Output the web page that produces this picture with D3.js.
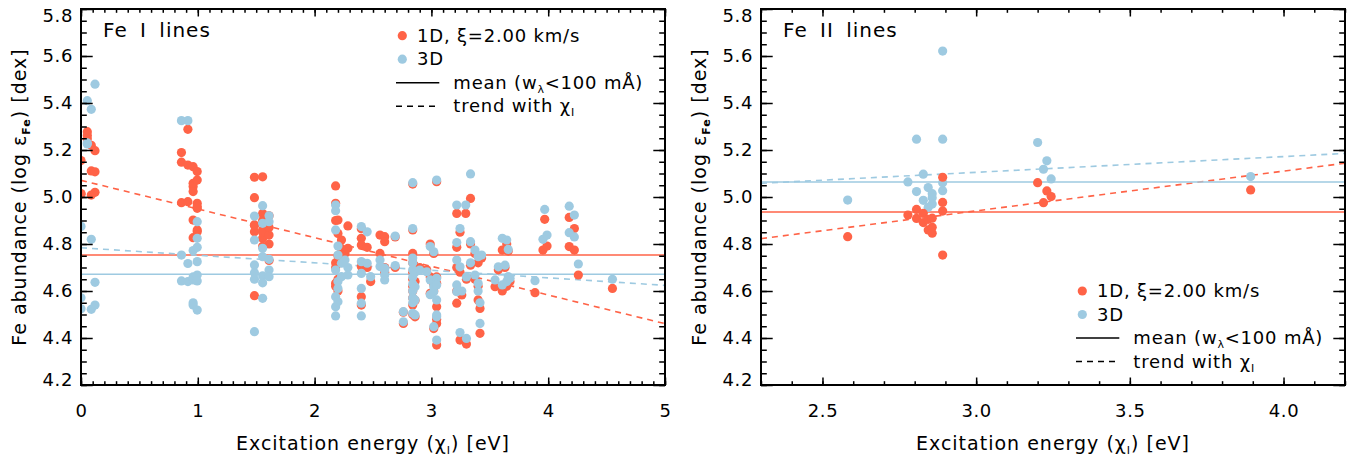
<!DOCTYPE html>
<html>
<head>
<meta charset="utf-8">
<script src="https://cdn.jsdelivr.net/npm/d3@7"></script>
<style>
body { margin: 0; background: #fff; }
svg text { font-family: 'DejaVu Sans', sans-serif; fill: #000; }
</style>
</head>
<body>
<svg id="chart" width="1358" height="460"></svg>
<script>
// Fe I lines: excitation energy [eV], 1D and 3D abundances
const fe1Chi = [
    0.0, 0.0, 0.0, 0.054, 0.054, 0.054, 0.088, 0.088, 0.088, 0.12, 0.12, 0.12,
    0.86, 0.86, 0.86, 0.915, 0.915, 0.915, 0.96, 0.96, 0.96, 0.96, 0.96, 0.96,
    0.995, 0.995, 0.995, 0.995, 0.995, 0.995, 0.995,
    1.485, 1.485, 1.485, 1.485, 1.485, 1.485, 1.555, 1.555, 1.555, 1.555, 1.555, 1.555, 1.555,
    1.61, 1.61, 1.61, 1.61, 1.61,
    2.18, 2.18, 2.18, 2.18, 2.18, 2.18, 2.18, 2.2, 2.2, 2.2, 2.2, 2.2, 2.23, 2.23, 2.26, 2.285, 2.285,
    2.40, 2.40, 2.40, 2.40, 2.40, 2.40, 2.45, 2.45, 2.48,
    2.56, 2.56, 2.60, 2.60, 2.60, 2.60,
    2.69, 2.69,
    2.76, 2.76, 2.84, 2.84, 2.84, 2.84, 2.84, 2.84, 2.84, 2.84, 2.84, 2.84, 2.84, 2.86, 2.86, 2.86, 2.86,
    2.90, 2.96, 2.99, 2.99, 2.99, 3.02, 3.02, 3.02, 3.02, 3.045, 3.045, 3.045, 3.045, 3.045, 3.045, 3.045,
    3.217, 3.217, 3.217, 3.217, 3.217, 3.245, 3.245, 3.245, 3.26, 3.294, 3.30, 3.30,
    3.335, 3.335, 3.335, 3.373, 3.373, 3.40, 3.40, 3.40, 3.416, 3.416, 3.43,
    3.545, 3.573, 3.607, 3.607, 3.63, 3.645, 3.645, 3.658, 3.658, 3.673,
    3.887, 3.955, 3.97, 3.99,
    4.18, 4.18, 4.224, 4.224, 4.258,
    4.55
];
const fe1Ab1D = [
    5.155, 5.015, 5.012, 5.278, 5.262, 5.248, 5.22, 5.111, 5.008, 5.197, 5.107, 5.02,
    5.189, 5.148, 4.976, 5.288, 5.136, 4.98, 5.129, 5.058, 5.045, 5.023, 4.902, 4.827,
    5.108, 5.072, 4.973, 4.952, 4.852, 4.96, 4.86,
    5.084, 4.997, 4.881, 4.852, 4.58, 4.88, 5.086, 4.93, 4.86, 4.824, 4.90, 4.85, 4.79,
    4.838, 4.73, 4.92, 4.87, 4.80,
    5.047, 4.973, 4.90, 4.633, 4.72, 4.70, 4.62, 4.902, 4.845, 4.75, 4.65, 4.60, 4.817, 4.78, 4.76, 4.877, 4.782,
    4.865, 4.824, 4.796, 4.704, 4.576, 4.54, 4.786, 4.70, 4.64,
    4.838, 4.76, 4.831, 4.81, 4.70, 4.68,
    4.83, 4.70,
    4.462, 4.51, 5.055, 4.86, 4.76, 4.72, 4.68, 4.65, 4.62, 4.60, 4.57, 4.54, 4.50, 4.70, 4.64, 4.56, 4.49,
    4.70, 4.69, 4.80, 4.66, 4.59, 4.76, 4.63, 4.60, 4.44, 5.065, 4.66, 4.633, 4.533, 4.462, 4.37, 4.48,
    4.93, 4.786, 4.70, 4.60, 4.548, 4.85, 4.68, 4.391, 4.583, 4.93, 4.65, 4.374,
    4.994, 4.80, 4.71, 4.76, 4.65, 4.62, 4.562, 4.72, 4.526, 4.42, 4.74,
    4.618, 4.69, 4.774, 4.60, 4.70, 4.80, 4.62, 4.77, 4.65, 4.64,
    4.593, 4.774, 4.905, 4.791,
    4.913, 4.789, 4.866, 4.774, 4.668,
    4.611
];
const fe1Ab3D = [
    4.875, 4.571, 4.524, 5.41, 5.226, 5.23, 5.373, 4.82, 4.522, 5.48, 4.637, 4.54,
    5.325, 4.753, 4.643, 5.325, 4.717, 4.64, 4.772, 4.651, 4.647, 4.54, 4.66, 4.55,
    4.895, 4.824, 4.786, 4.725, 4.668, 4.643, 4.519,
    4.919, 4.817, 4.711, 4.678, 4.427, 4.65, 4.963, 4.888, 4.782, 4.746, 4.665, 4.635, 4.569,
    4.92, 4.895, 4.735, 4.689, 4.661,
    4.966, 4.942, 4.86, 4.689, 4.576, 4.533, 4.494, 4.791, 4.753, 4.64, 4.611, 4.554, 4.661, 4.718, 4.732, 4.668, 4.70,
    4.874, 4.725, 4.675, 4.611, 4.548, 4.494, 4.852, 4.718, 4.661,
    4.732, 4.704, 4.697, 4.689, 4.668, 4.647,
    4.834, 4.708,
    4.469, 4.512, 5.061, 4.866, 4.74, 4.72, 4.69, 4.66, 4.63, 4.60, 4.57, 4.55, 4.505, 4.68, 4.618, 4.562, 4.498,
    4.689, 4.682, 4.789, 4.647, 4.584, 4.767, 4.618, 4.597, 4.448, 5.072, 4.654, 4.626, 4.562, 4.49, 4.391, 4.498,
    4.966, 4.806, 4.732, 4.626, 4.597, 4.866, 4.703, 4.423, 4.60, 4.966, 4.66, 4.398,
    5.098, 4.81, 4.72, 4.774, 4.668, 4.633, 4.60, 4.746, 4.55, 4.462, 4.753,
    4.647, 4.703, 4.824, 4.626, 4.71, 4.817, 4.64, 4.777, 4.661, 4.654,
    4.644, 4.82, 4.947, 4.838,
    4.961, 4.848, 4.923, 4.83, 4.715,
    4.65
];
// means (1D, 3D) and linear trends [intercept, slope] (1D, 3D)
const fe1Mean = [4.753, 4.671];
const fe1Trend = [[5.071, -0.122], [4.784, -0.032]];

// Fe II lines
const fe2Chi = [2.582, 2.778, 2.806, 2.806, 2.828, 2.828, 2.844, 2.844, 2.857, 2.857, 2.857,
    2.891, 2.891, 2.891, 2.891, 3.2, 3.219, 3.23, 3.244, 3.893];
const fe2Ab1D = [4.831, 4.923, 4.947, 4.909, 4.93, 4.891, 4.905, 4.86, 4.91, 4.871, 4.846,
    5.084, 4.977, 4.94, 4.753, 5.061, 4.976, 5.026, 5.002, 5.03];
const fe2Ab3D = [4.987, 5.064, 5.246, 5.023, 5.097, 4.986, 5.04, 4.956, 5.014, 4.997, 4.97,
    5.621, 5.246, 5.061, 5.027, 5.232, 5.118, 5.154, 5.077, 5.087];
const fe2Mean = [4.936, 5.064];
const fe2Trend = [[4.434, 0.169], [4.904, 0.067]];

// axes
const yDomain = [4.2, 5.8];
const yTicks = [4.2, 4.4, 4.6, 4.8, 5.0, 5.2, 5.4, 5.6, 5.8];
const fe1XDomain = [0, 5];
const fe1XTicks = [0, 1, 2, 3, 4, 5];
const fe2XDomain = [2.3, 4.2];
const fe2XTicks = [2.5, 3.0, 3.5, 4.0];

const legendLabels = [
    [{ t: '1D, ξ=2.00 km/s' }],
    [{ t: '3D' }],
    [{ t: 'mean (w' }, { t: 'λ', sub: true }, { t: '<100 mÅ)' }],
    [{ t: 'trend with χ' }, { t: 'I', sub: true }]
];

const red = '#ff6347';
const blue = '#9ecae1';
const plot = { x0: 81, x1: 665, y0: 9, y1: 385 };
const svg = d3.select('#chart');

// text with optional subscript parts
function richText(sel, parts, subSize) {
    parts.forEach((p, i) => {
        const prevSub = i > 0 && parts[i - 1].sub;
        const ts = sel.append('tspan').text(p.t);
        if (p.sub) ts.attr('font-size', subSize).attr('dy', 4).attr('font-weight', p.bold ? 'bold' : null);
        else if (prevSub) ts.attr('dy', -4);
    });
    return sel;
}

function drawPanel(p) {
    const g = svg.append('g').attr('transform', `translate(${p.dx},0)`);
    const x = d3.scaleLinear().domain(p.xDomain).range([plot.x0, plot.x1]);
    const y = d3.scaleLinear().domain(yDomain).range([plot.y1, plot.y0]);

    const clipId = 'clip-' + p.id;
    g.append('clipPath').attr('id', clipId).append('rect')
        .attr('x', x(p.xDomain[0])).attr('y', y(yDomain[1]))
        .attr('width', x(p.xDomain[1]) - x(p.xDomain[0]))
        .attr('height', y(yDomain[0]) - y(yDomain[1]));
    const body = g.append('g').attr('clip-path', `url(#${clipId})`);

    // mean and trend lines
    [red, blue].forEach((c, i) => {
        body.append('line')
            .attr('x1', x(p.xDomain[0])).attr('x2', x(p.xDomain[1]))
            .attr('y1', y(p.mean[i])).attr('y2', y(p.mean[i]))
            .attr('stroke', c).attr('stroke-width', 1.6);
        const [a, b] = p.trend[i];
        body.append('line')
            .attr('x1', x(p.xDomain[0])).attr('x2', x(p.xDomain[1]))
            .attr('y1', y(a + b * p.xDomain[0])).attr('y2', y(a + b * p.xDomain[1]))
            .attr('stroke', c).attr('stroke-width', 1.6)
            .attr('stroke-dasharray', '6,5');
    });

    // points
    const rows = p.chi.map((c, i) => ({ chi: c, v1: p.ab1D[i], v3: p.ab3D[i] }));
    const layers = [{ key: 'v1', color: red }, { key: 'v3', color: blue }];
    if (p.redOnTop) layers.reverse();
    layers.forEach(l => {
        body.append('g').selectAll('circle')
            .data(rows)
            .enter()
            .append('circle')
            .attr('cx', d => x(d.chi))
            .attr('cy', d => y(d[l.key]))
            .attr('r', 4.6)
            .attr('fill', l.color);
    });

    // axes: inward major and minor ticks on all four sides
    const xMinor = d3.range(p.xDomain[0], p.xDomain[1] + 1e-6, 0.1).map(v => +v.toFixed(2));
    const yMinor = d3.range(yDomain[0], yDomain[1] + 1e-6, 0.05).map(v => +v.toFixed(2));
    const tidy = s => s.call(a => a.select('.domain').remove())
        .call(a => a.selectAll('line').attr('stroke', '#000').attr('stroke-width', 1.5));
    const fmt = p.xFormat;

    g.append('g').attr('transform', `translate(0,${plot.y1})`)
        .call(d3.axisBottom(x).tickValues(xMinor).tickSize(-3.8).tickFormat('')).call(tidy);
    g.append('g').attr('transform', `translate(0,${plot.y1})`)
        .call(d3.axisBottom(x).tickValues(p.xTicks).tickSize(-7.5).tickPadding(19).tickFormat(fmt))
        .call(tidy)
        .call(a => a.selectAll('text').attr('font-size', 18).attr('letter-spacing', 0.6)
            .style('font-family', "'DejaVu Sans', sans-serif"));
    g.append('g').attr('transform', `translate(0,${plot.y0})`)
        .call(d3.axisTop(x).tickValues(xMinor).tickSize(-3.8).tickFormat('')).call(tidy);
    g.append('g').attr('transform', `translate(0,${plot.y0})`)
        .call(d3.axisTop(x).tickValues(p.xTicks).tickSize(-7.5).tickFormat('')).call(tidy);

    g.append('g').attr('transform', `translate(${plot.x0},0)`)
        .call(d3.axisLeft(y).tickValues(yMinor).tickSize(-5.8).tickFormat('')).call(tidy);
    g.append('g').attr('transform', `translate(${plot.x0},0)`)
        .call(d3.axisLeft(y).tickValues(yTicks).tickSize(-11.7).tickPadding(8).tickFormat(d3.format('.1f')))
        .call(tidy)
        .call(a => a.selectAll('text').attr('font-size', 18).attr('letter-spacing', 0.6)
            .style('font-family', "'DejaVu Sans', sans-serif")
            .attr('transform', d => d === yDomain[1] ? 'translate(0,7)' : d === yDomain[0] ? 'translate(0,-5)' : null));
    g.append('g').attr('transform', `translate(${plot.x1},0)`)
        .call(d3.axisRight(y).tickValues(yMinor).tickSize(-5.8).tickFormat('')).call(tidy);
    g.append('g').attr('transform', `translate(${plot.x1},0)`)
        .call(d3.axisRight(y).tickValues(yTicks).tickSize(-11.7).tickFormat('')).call(tidy);

    // frame
    g.append('rect')
        .attr('x', plot.x0).attr('y', plot.y0)
        .attr('width', plot.x1 - plot.x0).attr('height', plot.y1 - plot.y0)
        .attr('fill', 'none').attr('stroke', '#000').attr('stroke-width', 2);

    // axis titles
    richText(g.append('text')
        .attr('x', (plot.x0 + plot.x1) / 2).attr('y', 450)
        .attr('text-anchor', 'middle').attr('font-size', 19).attr('letter-spacing', 1),
        [{ t: 'Excitation energy (χ' }, { t: 'I', sub: true }, { t: ') [eV]' }], 11);
    richText(g.append('text')
        .attr('transform', `translate(26,${(plot.y0 + plot.y1) / 2}) rotate(-90)`)
        .attr('text-anchor', 'middle').attr('font-size', 19).attr('letter-spacing', 1),
        [{ t: 'Fe abundance (log ε' }, { t: 'Fe', sub: true, bold: true }, { t: ') [dex]' }], 11);

    // panel label
    g.append('text')
        .attr('x', 103).attr('y', 36.5)
        .attr('font-size', 20).attr('letter-spacing', 1).attr('word-spacing', 5)
        .text(p.label);

    // legend
    const lg = g.append('g').attr('transform', `translate(0,${p.legendY})`);
    legendLabels.forEach((parts, i) => {
        const ry = i * 23.5;
        if (i < 2) {
            lg.append('circle').attr('cx', 402.3).attr('cy', ry).attr('r', 4.6)
                .attr('fill', i === 0 ? red : blue);
        } else {
            lg.append('line').attr('x1', 396).attr('x2', 439.3).attr('y1', ry).attr('y2', ry)
                .attr('stroke', '#000').attr('stroke-width', 1.6)
                .attr('stroke-dasharray', i === 3 ? '6,5' : null);
        }
        richText(lg.append('text')
            .attr('x', i < 2 ? 417 : 453.3).attr('y', ry + 6)
            .attr('font-size', 18).attr('letter-spacing', 0.8), parts, 11);
    });
}

drawPanel({
    id: 'fe1', dx: 0, label: 'Fe I lines',
    xDomain: fe1XDomain, xTicks: fe1XTicks, xFormat: d3.format('d'),
    chi: fe1Chi, ab1D: fe1Ab1D, ab3D: fe1Ab3D,
    mean: fe1Mean, trend: fe1Trend, legendY: 35.7, redOnTop: false
});
drawPanel({
    id: 'fe2', dx: 680, label: 'Fe II lines',
    xDomain: fe2XDomain, xTicks: fe2XTicks, xFormat: d3.format('.1f'),
    chi: fe2Chi, ab1D: fe2Ab1D, ab3D: fe2Ab3D,
    mean: fe2Mean, trend: fe2Trend, legendY: 291, redOnTop: true
});
</script>
</body>
</html>
